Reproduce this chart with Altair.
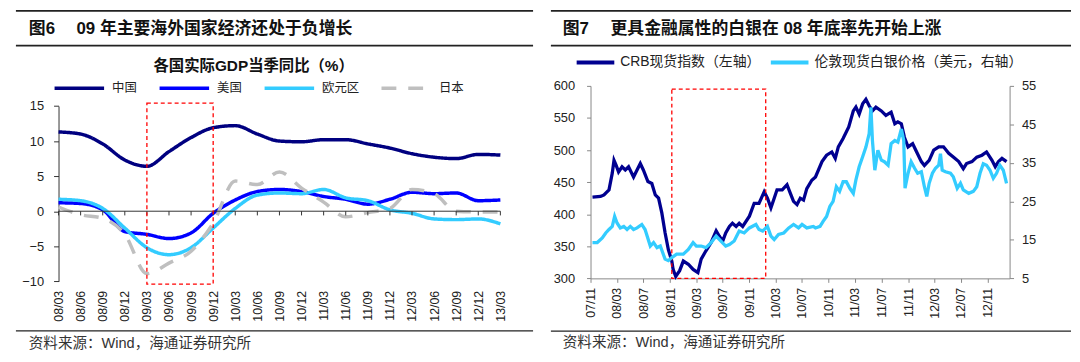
import pandas as pd
import altair as alt

LATIN = "Liberation Sans"
CJK = "Liberation Sans, Noto Sans CJK SC"

# ---------------- Figure 6 : quarterly real GDP yoy (%) ----------------
title6 = "图6\u3000 09 年主要海外国家经济还处于负增长"
subtitle6 = "各国实际GDP当季同比（%）"
quarters = ["08/03", "08/06", "08/09", "08/12", "09/03", "09/06", "09/09", "09/12",
            "10/03", "10/06", "10/09", "10/12", "11/03", "11/06", "11/09", "11/12",
            "12/03", "12/06", "12/09", "12/12", "13/03"]
series6 = ["中国", "美国", "欧元区", "日本"]
colors6 = ["#000080", "#0000FF", "#33CCFF", "#BFBFBF"]
china = [11.3, 11.0, 9.6, 7.3, 6.4, 8.5, 10.5, 11.9, 12.2, 11.0, 10.0, 9.9,
         10.2, 10.2, 9.6, 9.0, 8.2, 7.7, 7.5, 8.1, 8.0]
us = [1.2, 1.1, 0.2, -2.9, -3.3, -3.9, -3.1, -0.3, 1.6, 2.8, 3.1, 2.8,
      2.1, 1.7, 1.0, 1.7, 2.7, 2.5, 2.6, 1.5, 1.6]
euro = [1.7, 1.5, 0.4, -2.4, -5.2, -6.2, -5.2, -2.4, 0.4, 2.3, 2.6, 2.5,
        3.1, 1.9, 1.5, 0.2, -0.3, -1.1, -1.2, -1.1, -1.8]
japan = [0.6, -0.5, -1.0, -3.3, -8.9, -7.4, -5.7, -1.7, 4.3, 3.8, 5.6, 3.3,
         1.3, -0.8, -0.2, 0.4, 3.1, 2.5, 0.0, -0.1, -0.1]
box6 = {"start": "09/03", "end": "09/12", "top": 15.4, "bottom": -10.4}

# ---------------- Figure 7 : CRB index vs London spot silver ----------------
title7 = "图7\u3000 更具金融属性的白银在 08 年底率先开始上涨"
series7 = ["CRB现货指数（左轴）", "伦敦现货白银价格（美元，右轴）"]
colors7 = ["#000090", "#33CCFF"]
crb_dates = [
    "2007-11-10", "2007-12-17", "2008-01-02", "2008-01-10", "2008-01-25", "2008-02-09",
    "2008-02-17", "2008-02-27", "2008-03-09", "2008-03-25", "2008-04-09", "2008-04-24",
    "2008-05-17", "2008-06-02", "2008-06-17", "2008-07-01", "2008-07-22", "2008-08-09",
    "2008-08-25", "2008-09-09", "2008-09-24", "2008-10-09", "2008-10-24", "2008-11-09",
    "2008-11-15", "2008-11-27", "2008-12-15", "2009-01-01", "2009-01-24", "2009-02-15",
    "2009-03-09", "2009-03-24", "2009-04-15", "2009-05-09", "2009-06-01", "2009-06-15",
    "2009-07-01", "2009-07-15", "2009-08-01", "2009-08-15", "2009-09-01", "2009-09-15",
    "2009-10-01", "2009-11-01", "2009-11-23", "2009-12-15", "2010-01-08", "2010-01-23",
    "2010-02-08", "2010-02-23", "2010-03-08", "2010-04-01", "2010-04-23", "2010-05-08",
    "2010-05-23", "2010-06-08", "2010-06-23", "2010-07-08", "2010-07-23", "2010-08-15",
    "2010-09-01", "2010-10-01", "2010-10-22", "2010-11-15", "2010-12-01", "2010-12-15",
    "2011-01-06", "2011-02-01", "2011-02-22", "2011-03-06", "2011-03-21", "2011-04-06",
    "2011-04-21", "2011-05-06", "2011-05-21", "2011-06-06", "2011-07-01", "2011-07-22",
    "2011-08-15", "2011-09-01", "2011-09-15", "2011-10-01", "2011-10-15", "2011-11-01",
    "2011-11-22", "2011-12-06", "2012-01-01", "2012-01-15", "2012-02-06", "2012-02-27",
    "2012-03-21", "2012-04-12", "2012-05-06", "2012-05-27", "2012-06-21", "2012-07-12",
    "2012-07-27", "2012-08-21", "2012-09-12", "2012-10-06", "2012-10-27", "2012-11-21",
    "2012-12-06", "2012-12-21", "2013-01-06", "2013-01-27"]
crb_values = [
    426.6, 427.6, 430, 433, 438, 464, 484, 476, 466, 474, 469, 474,
    458, 469, 479, 469, 451, 448, 430, 425, 402, 371, 345, 327,
    314, 303, 312, 327, 322, 314, 309, 330, 343, 356, 374, 366,
    358, 371, 381, 386, 381, 386, 381, 397, 417, 417, 435, 425,
    410, 425, 438, 438, 446, 433, 420, 415, 425, 422, 440, 453,
    458, 482, 492, 497, 487, 505, 518, 536, 561, 567, 556, 572,
    579, 569, 561, 567, 561, 554, 559, 541, 544, 541, 520, 505,
    510, 500, 482, 476, 484, 500, 505, 505, 495, 489, 482, 471,
    479, 482, 489, 492, 497, 484, 474, 482, 487, 482]
silver_dates = [
    "2007-11-10", "2007-12-02", "2007-12-25", "2008-01-10", "2008-01-25", "2008-02-09",
    "2008-02-20", "2008-03-02", "2008-03-17", "2008-04-02", "2008-04-17", "2008-05-02",
    "2008-05-17", "2008-06-02", "2008-06-24", "2008-07-09", "2008-08-02", "2008-08-17",
    "2008-09-02", "2008-09-17", "2008-10-09", "2008-10-24", "2008-11-09", "2008-12-01",
    "2009-01-01", "2009-01-24", "2009-02-15", "2009-03-02", "2009-03-24", "2009-04-15",
    "2009-05-09", "2009-06-01", "2009-06-23", "2009-07-15", "2009-08-01", "2009-08-23",
    "2009-09-15", "2009-10-08", "2009-11-01", "2009-12-01", "2009-12-15", "2010-01-01",
    "2010-01-23", "2010-02-08", "2010-02-23", "2010-03-15", "2010-04-08", "2010-05-01",
    "2010-05-23", "2010-06-15", "2010-07-01", "2010-07-23", "2010-08-22", "2010-09-01",
    "2010-09-22", "2010-10-06", "2010-10-22", "2010-11-06", "2010-11-21", "2010-12-06",
    "2010-12-21", "2011-01-06", "2011-01-21", "2011-02-06", "2011-02-22", "2011-03-06",
    "2011-03-21", "2011-04-06", "2011-04-21", "2011-05-06", "2011-05-14", "2011-05-21",
    "2011-06-01", "2011-06-15", "2011-07-01", "2011-07-15", "2011-08-01", "2011-08-15",
    "2011-09-01", "2011-09-15", "2011-10-01", "2011-10-12", "2011-10-18", "2011-11-01",
    "2011-11-15", "2011-12-01", "2011-12-15", "2012-01-01", "2012-01-15", "2012-01-26",
    "2012-02-06", "2012-02-21", "2012-03-06", "2012-03-21", "2012-03-29", "2012-04-06",
    "2012-04-21", "2012-05-14", "2012-05-27", "2012-06-14", "2012-06-29", "2012-07-12",
    "2012-08-06", "2012-08-27", "2012-09-12", "2012-09-27", "2012-10-12", "2012-10-27",
    "2012-11-12", "2012-11-27", "2012-12-12", "2012-12-27", "2013-01-12", "2013-01-27"]
silver_values = [
    14.3, 14.3, 15.5, 16.8, 17.7, 18.5, 21.1, 19.4, 18.1, 18.5, 17.7, 18.5,
    17.7, 18.1, 19.0, 17.7, 13.4, 14.3, 13.0, 13.4, 10.0, 9.6, 10.4, 11.3,
    11.3, 12.5, 14.3, 13.4, 13.4, 13.0, 14.3, 16.0, 14.7, 13.4, 13.8, 14.7,
    17.3, 16.8, 18.1, 19.0, 17.7, 17.3, 18.5, 16.0, 15.1, 16.4, 16.8, 18.1,
    19.0, 18.1, 19.0, 18.1, 18.5, 18.1, 18.5, 19.8, 21.1, 23.7, 25.0, 28.8,
    27.6, 30.1, 30.1, 28.4, 27.1, 30.6, 34.0, 36.6, 39.1, 42.6, 49.4, 40.8,
    33.1, 38.3, 35.7, 35.3, 34.4, 40.0, 40.8, 40.4, 43.8, 40.8, 28.4, 32.3,
    35.3, 33.6, 32.3, 32.7, 28.8, 26.3, 29.7, 32.3, 33.6, 34.4, 37.4, 33.1,
    32.7, 32.3, 31.4, 28.4, 29.7, 28.0, 27.1, 27.6, 28.8, 32.3, 34.8, 34.4,
    33.1, 31.0, 32.3, 34.4, 33.1, 29.7]
box7 = {"start": "2008-11-09", "end": "2010-01-15", "top": 595, "bottom": 300}
x7_ticks = [(2007, 11), (2008, 3), (2008, 7), (2008, 11), (2009, 3), (2009, 7), (2009, 11),
            (2010, 3), (2010, 7), (2010, 11), (2011, 3), (2011, 7), (2011, 11), (2012, 3),
            (2012, 7), (2012, 11)]
source = "资料来源：Wind，海通证券研究所"

# ---------------- tables ----------------
vals6 = [china, us, euro, japan]
df6 = pd.DataFrame([
    {"idx": i, "value": v, "series": s}
    for s, arr in zip(series6, vals6) for i, v in enumerate(arr)
])
zero_df = pd.DataFrame({"idx": list(range(len(quarters)))})
box6_df = pd.DataFrame({"x0": [quarters.index(box6["start"])], "x1": [quarters.index(box6["end"])],
                        "y0": [box6["top"]], "y1": [box6["bottom"]]})
crb_df = pd.DataFrame({"date": pd.to_datetime(crb_dates), "value": crb_values, "series7": series7[0]})
silver_df = pd.DataFrame({"date": pd.to_datetime(silver_dates), "value": silver_values,
                          "series7": series7[1]})
box7_df = pd.DataFrame({"x0": pd.to_datetime([box7["start"]]), "x1": pd.to_datetime([box7["end"]]),
                        "y0": [box7["top"]], "y1": [box7["bottom"]]})
one = pd.DataFrame({"k": [0]})

# plot areas: both panels share the same origin row; the left y range is shifted down
W6, H6 = 446, 197.3
Y6_RANGE = [197.3, 20.3]
W7, H7 = 423, 194.3


def rule(x1, x2, y, width=1.5):
    return alt.Chart(one).mark_rule(color="#222", strokeWidth=width).encode(
        x=alt.value(x1), x2=alt.value(x2), y=alt.value(y))


def label(text, x, y, size, bold=False, align="left", color="#111"):
    return alt.Chart(one).mark_text(
        text=text, font=CJK, fontSize=size, fontWeight="bold" if bold else "normal",
        align=align, baseline="middle", color=color).encode(x=alt.value(x), y=alt.value(y))


# ---------------- left panel ----------------
label_expr = "[" + ",".join(f"'{q}'" for q in quarters) + "][datum.value]"
xs6 = alt.Scale(domain=[0, len(quarters) - 1], nice=False, zero=False)
ys6 = alt.Scale(domain=[-10, 15], nice=False, zero=False, range=Y6_RANGE)
x6_axis = alt.Axis(values=list(range(len(quarters))), labelExpr=label_expr, labelAngle=270,
                   ticks=False, domain=False, grid=False, labelFont=LATIN,
                   labelFontSize=12.5, labelPadding=9, labelColor="#222",
                   labelOverlap=False, labelFlush=False)
y6_axis = alt.Axis(values=[-10, -5, 0, 5, 10, 15], grid=False, tickSize=5,
                   domainColor="#333", tickColor="#333", labelFont=LATIN,
                   labelFontSize=13, labelPadding=10, labelColor="#222",
                   labelOverlap=False, labelFlush=False)
leg6 = alt.Legend(orient="none", legendX=-6, legendY=-24.7, direction="horizontal", title=None,
                  symbolType="stroke", symbolSize=2500, symbolStrokeWidth=3.5, gridAlign="none",
                  labelFont=CJK, labelFontSize=12.5, labelOffset=6, columnPadding=15,
                  padding=0, labelColor="#222")

lines6 = alt.Chart(df6).mark_line(strokeWidth=3.5, interpolate="monotone").encode(
    x=alt.X("idx:Q", scale=xs6, title=None, axis=x6_axis),
    y=alt.Y("value:Q", scale=ys6, title=None, axis=y6_axis),
    color=alt.Color("series:N", scale=alt.Scale(domain=series6, range=colors6), legend=leg6),
    strokeDash=alt.StrokeDash("series:N", scale=alt.Scale(domain=series6,
                              range=[[1, 0], [1, 0], [1, 0], [15, 12]]), legend=leg6),
    detail="series:N",
)
zero_line = alt.Chart(one).mark_rule(color="#333", strokeWidth=1).encode(
    y=alt.YDatum(0, scale=ys6, axis=y6_axis, title=None))
zero_ticks = alt.Chart(zero_df).mark_rule(color="#333", strokeWidth=1).encode(
    x=alt.X("idx:Q", scale=xs6, title=None, axis=x6_axis),
    y=alt.YDatum(0, scale=ys6, axis=y6_axis, title=None), y2=alt.Y2Datum(-0.6))
box6_layer = alt.Chart(box6_df).mark_rect(fillOpacity=0, stroke="#FF0000", strokeDash=[4, 3],
                                          strokeWidth=1.3).encode(
    x=alt.X("x0:Q", scale=xs6, title=None, axis=x6_axis), x2="x1",
    y=alt.Y("y0:Q", scale=ys6, title=None, axis=y6_axis), y2="y1")

left = alt.layer(
    lines6, zero_line, zero_ticks, box6_layer,
    rule(-43, 479, -75.7, 1.8),
    label(title6, -30, -57.7, 17, bold=True),
    rule(-43, 479, -40.7, 1.8),
    label(subtitle6, 197, -19.7, 15.5, bold=True, align="center"),
    rule(-43, 479, 247.3, 1.3),
    label(source, -30, 260.3, 14.7, color="#333"),
).properties(width=W6, height=H6)

# ---------------- right panel ----------------
xs7 = alt.Scale(domain=[alt.DateTime(year=2007, month=11, date=1),
                        alt.DateTime(year=2013, month=2, date=10)], nice=False)
x7_axis = alt.Axis(values=[alt.DateTime(year=y, month=m, date=1) for y, m in x7_ticks],
                   format="%y/%m", labelAngle=270, grid=False, tickSize=4,
                   domainColor="#888", tickColor="#888", labelFont=LATIN,
                   labelFontSize=12.5, labelPadding=5, labelColor="#222",
                   labelOverlap=False, labelFlush=False)
crb_axis = alt.Axis(values=[300, 350, 400, 450, 500, 550, 600], grid=False, tickSize=4,
                    domainColor="#888", tickColor="#888", labelFont=LATIN,
                    labelFontSize=13, labelPadding=12, labelColor="#222", labelFlush=False,
                    labelOverlap=False)
crb_scale = alt.Scale(domain=[300, 600], nice=False, zero=False)
color7 = alt.Color("series7:N", scale=alt.Scale(domain=series7, range=colors7),
                   legend=alt.Legend(orient="none", legendX=-16, legendY=-44.7,
                                     direction="horizontal", title=None, symbolType="stroke",
                                     symbolSize=1444, symbolStrokeWidth=4, gridAlign="none",
                                     labelFont=CJK, labelFontSize=14, labelOffset=4,
                                     labelLimit=400, columnPadding=2, padding=0,
                                     labelColor="#222"))
crb_line = alt.Chart(crb_df).mark_line(strokeWidth=3.3).encode(
    x=alt.X("date:T", scale=xs7, title=None, axis=x7_axis),
    y=alt.Y("value:Q", scale=crb_scale, title=None, axis=crb_axis),
    color=color7,
)
box7_layer = alt.Chart(box7_df).mark_rect(fillOpacity=0, stroke="#FF0000", strokeDash=[4, 3],
                                          strokeWidth=1.3).encode(
    x=alt.X("x0:T", scale=xs7, title=None, axis=x7_axis), x2="x1",
    y=alt.Y("y0:Q", scale=crb_scale, title=None, axis=crb_axis), y2="y1")
silver_line = alt.Chart(silver_df).mark_line(strokeWidth=3.3).encode(
    x=alt.X("date:T", scale=xs7, title=None, axis=x7_axis),
    y=alt.Y("value:Q", scale=alt.Scale(domain=[5, 55], nice=False, zero=False), title=None,
            axis=alt.Axis(orient="right", values=[5, 15, 25, 35, 45, 55], grid=False, tickSize=4,
                          domainColor="#888", tickColor="#888", labelFont=LATIN,
                          labelFontSize=13, labelPadding=8, labelColor="#222",
                          labelFlush=False, labelOverlap=False)),
    color=color7,
)
left_axis_group = alt.layer(
    crb_line, box7_layer,
    rule(-40, 485, -75.7, 1.8),
    label(title7, -28, -57.7, 17, bold=True),
    rule(-40, 485, -40.7, 1.8),
    rule(-40, 485, 247.6, 1.3),
    label(source, -28, 260, 14.7, color="#333"),
)
right = alt.layer(left_axis_group, silver_line).resolve_scale(y="independent").properties(
    width=W7, height=H7)

chart = alt.hconcat(left, right, spacing=16).resolve_scale(
    color="independent", strokeDash="independent"
).resolve_legend(color="independent", strokeDash="independent").properties(
    padding={"left": 7, "top": 0, "right": 0, "bottom": 0}
).configure_view(stroke=None)

chart.save("out.html", embed_options={"renderer": "svg", "actions": False})
